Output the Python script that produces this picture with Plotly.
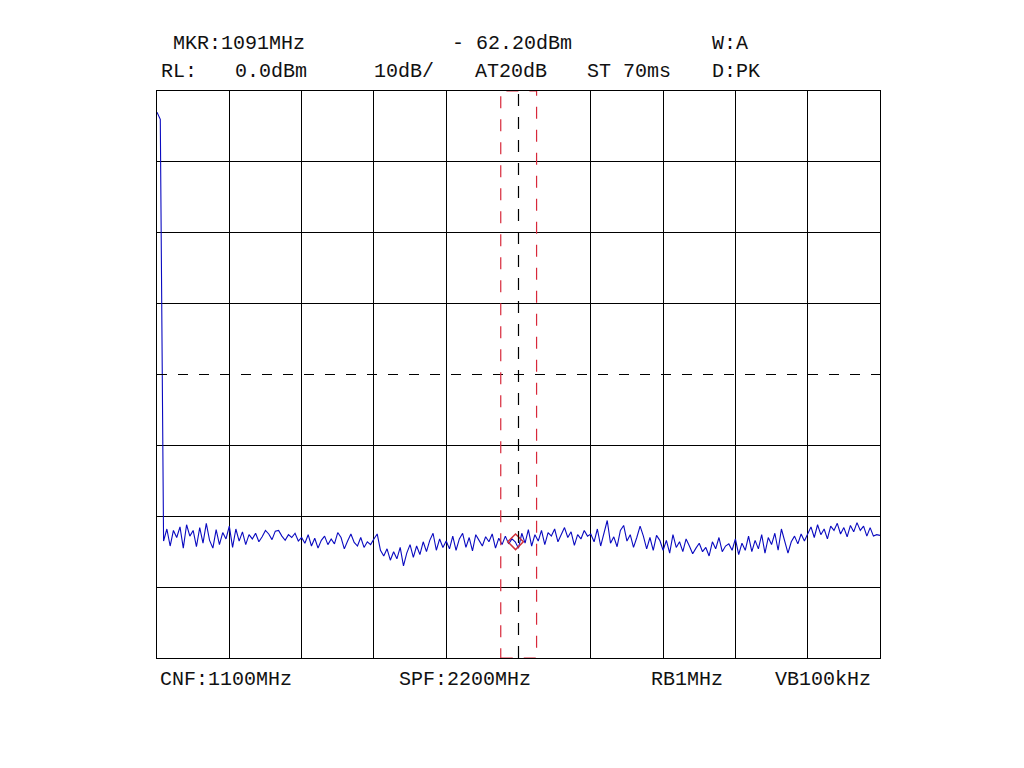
import numpy as np
import plotly.graph_objects as go

# sweep settings
START_MHZ = 0
STOP_MHZ = 2200
REF_LEVEL = 0.0
DB_PER_DIV = 10
N_XDIV = 10
N_YDIV = 8

MARKER_MHZ = 1091
MARKER_DBM = -63.6          # where the diamond sits on the trace
DISPLAY_LINE = -40.0
BAND_MHZ = [1046, 1155]     # red dashed window
CENTER_MHZ = 1100

# trace levels (dBm), one per 10 MHz, grouped per division
trace_dbm = (
    [-3.0, -4.0,
     -63.5, -61.8, -64.2, -62.0, -63.0, -61.5, -64.5, -61.2, -62.8, -62.0,
     -64.3, -61.6, -63.8, -61.0, -63.4, -64.5, -61.9, -64.0, -62.3, -63.2]
    + [-61.4, -64.4, -61.8, -63.5, -62.2, -64.0, -62.6, -63.2, -62.4, -63.6,
       -62.9, -62.0, -62.5, -63.3, -62.1, -62.0, -62.8, -63.4, -62.6, -63.0,
       -62.4, -63.5]
    + [-63.0, -63.8, -62.6, -64.2, -63.1, -64.5, -63.4, -62.8, -64.0, -63.2,
       -63.9, -62.3, -63.0, -64.6, -63.5, -62.5, -63.7, -64.2, -63.0, -64.4,
       -63.6, -64.0]
    + [-63.2, -62.5, -64.8, -65.6, -64.6, -66.2, -65.0, -66.0, -64.4, -67.0,
       -65.2, -64.0, -65.8, -64.2, -65.4, -63.6, -65.0, -63.4, -62.4, -64.8,
       -63.2, -64.4]
    + [-63.5, -64.6, -62.8, -64.8, -63.2, -62.4, -64.4, -63.0, -64.9, -62.6,
       -63.4, -64.2, -62.9, -63.6, -62.5, -64.5, -63.1, -64.0, -62.8, -63.9,
       -63.2, -63.6]
    + [-64.5, -62.4, -63.8, -61.9, -64.2, -62.6, -63.5, -62.0, -64.0, -62.3,
       -62.8, -61.8, -63.6, -62.5, -61.6, -63.0, -62.2, -64.1, -62.6, -63.2,
       -62.0, -62.8]
    + [-62.5, -63.6, -61.8, -64.2, -62.4, -60.6, -63.8, -62.9, -64.3, -62.0,
       -61.3, -63.5, -62.6, -64.4, -63.0, -61.4, -62.8, -64.6, -63.0, -64.8,
       -62.7, -63.4]
    + [-64.8, -63.4, -65.2, -62.6, -64.4, -63.6, -65.0, -63.2, -64.2, -65.3,
       -64.5, -63.8, -65.0, -64.4, -65.6, -63.6, -64.6, -63.0, -65.0, -64.2,
       -63.9, -64.8]
    + [-63.2, -65.4, -63.8, -64.8, -62.8, -65.0, -63.4, -64.6, -62.6, -65.2,
       -63.0, -64.0, -62.4, -64.8, -61.8, -63.4, -65.2, -63.6, -62.8, -63.9,
       -62.5, -63.5]
    + [-62.4, -61.5, -63.0, -61.2, -62.6, -61.8, -63.2, -61.4, -62.0, -61.0,
       -62.5, -61.6, -62.9, -61.3, -62.2, -60.9, -62.0, -61.4, -62.8, -61.6,
       -62.8, -62.6, -62.7]
)
trace_mhz = np.linspace(START_MHZ, STOP_MHZ, len(trace_dbm))

# screen annotations: (text, left px, centre px)
header_text = [
    ("MKR:1091MHz", 171, 44),
    ("- 62.20dBm", 450, 44),
    ("W:A", 710, 44),
    ("RL:", 159, 71),
    ("0.0dBm", 233, 71),
    ("10dB/", 372, 71),
    ("AT20dB", 473, 71),
    ("ST 70ms", 585, 71),
    ("D:PK", 710, 71),
    ("CNF:1100MHz", 158, 679),
    ("SPF:2200MHz", 397, 679),
    ("RB1MHz", 649, 679),
    ("VB100kHz", 773, 679),
]

# the page body adds an 8 px offset, so the frame is placed 8 px up/left
PAGE_OFF = 8
W, H = 1024, 768
L, T = 157 - PAGE_OFF, 91 - PAGE_OFF
PW, PH = 723, 567
R, B = W - L - PW, H - T - PH

x_step = (STOP_MHZ - START_MHZ) / N_XDIV
y_bottom = REF_LEVEL - DB_PER_DIV * N_YDIV
x_grid = [START_MHZ + i * x_step for i in range(1, N_XDIV) if START_MHZ + i * x_step != CENTER_MHZ]
y_grid = [REF_LEVEL - i * DB_PER_DIV for i in range(1, N_YDIV) if REF_LEVEL - i * DB_PER_DIV != DISPLAY_LINE]

fig = go.Figure()
fig.add_trace(go.Scatter(
    x=trace_mhz, y=trace_dbm, mode='lines',
    line=dict(color='#0a0ac0', width=1.1),
    hoverinfo='skip', showlegend=False
))
fig.add_trace(go.Scatter(
    x=[MARKER_MHZ], y=[MARKER_DBM], mode='markers',
    marker=dict(symbol='diamond-open', size=12, color='#d0303a', line=dict(width=1.5)),
    showlegend=False
))

# dashed display line, centre line and band window
fig.add_shape(type='line', x0=START_MHZ, x1=STOP_MHZ, y0=DISPLAY_LINE, y1=DISPLAY_LINE,
              line=dict(color='black', width=1.2, dash='10px,11px'))
fig.add_shape(type='line', x0=CENTER_MHZ, x1=CENTER_MHZ, y0=y_bottom, y1=REF_LEVEL,
              line=dict(color='black', width=1.2, dash='12px,11px'))
fig.add_shape(type='rect', x0=BAND_MHZ[0], x1=BAND_MHZ[1], y0=y_bottom, y1=REF_LEVEL,
              line=dict(color='#d8283a', width=1.2, dash='12px,11px'))

for text, px, py in header_text:
    fig.add_annotation(
        text=text, xref='paper', yref='paper',
        x=(px - PAGE_OFF - L) / PW, y=(T + PH - (py - PAGE_OFF)) / PH,
        xanchor='left', yanchor='middle', showarrow=False,
        font=dict(family='Liberation Mono', size=20, color='#111')
    )

fig.update_layout(
    width=W, height=H,
    margin=dict(l=L, r=R, t=T, b=B),
    paper_bgcolor='white',
    plot_bgcolor='white',
    xaxis=dict(
        range=[START_MHZ, STOP_MHZ],
        tickvals=x_grid, showticklabels=False, ticks='',
        showgrid=True, gridcolor='black', gridwidth=1.2,
        showline=True, linecolor='black', linewidth=1.3, mirror=True,
        zeroline=False
    ),
    yaxis=dict(
        range=[y_bottom, REF_LEVEL],
        tickvals=y_grid, showticklabels=False, ticks='',
        showgrid=True, gridcolor='black', gridwidth=1.2,
        showline=True, linecolor='black', linewidth=1.3, mirror=True,
        zeroline=False
    ),
)

fig.write_html("out.html")
